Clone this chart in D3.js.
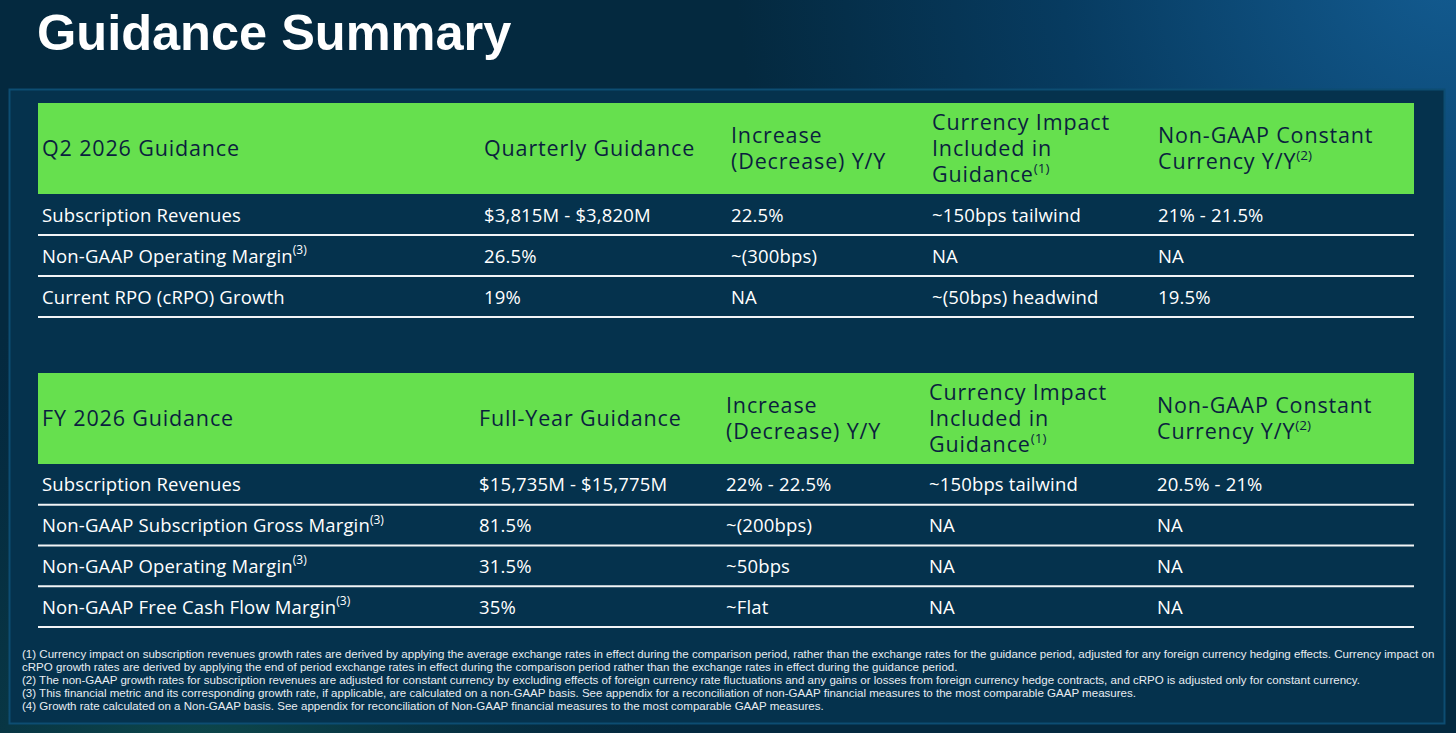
<!DOCTYPE html>
<html>
<head>
<meta charset="utf-8">
<script src="https://cdn.jsdelivr.net/npm/d3@7"></script>
<style>
  html, body { margin: 0; padding: 0; background: #04283f; overflow: hidden; }
  svg { display: block; }
</style>
</head>
<body>
<svg id="chart" width="1456" height="733"></svg>
<script>
// ---------------- DATA ----------------
const pageTitle = "Guidance Summary";

// "|" separates normal text from superscript note marker
const q2Headers = [["Q2 2026 Guidance"], ["Quarterly Guidance"], ["Increase", "(Decrease) Y/Y"],
  ["Currency Impact", "Included in", "Guidance|(1)"], ["Non-GAAP Constant", "Currency Y/Y|(2)"]];
const q2Metrics  = ["Subscription Revenues", "Non-GAAP Operating Margin|(3)", "Current RPO (cRPO) Growth"];
const q2Guidance = ["$3,815M - $3,820M", "26.5%", "19%"];
const q2Change   = ["22.5%", "~(300bps)", "NA"];
const q2Currency = ["~150bps tailwind", "NA", "~(50bps) headwind"];
const q2Constant = ["21% - 21.5%", "NA", "19.5%"];

const fyHeaders = [["FY 2026 Guidance"], ["Full-Year Guidance"], ["Increase", "(Decrease) Y/Y"],
  ["Currency Impact", "Included in", "Guidance|(1)"], ["Non-GAAP Constant", "Currency Y/Y|(2)"]];
const fyMetrics  = ["Subscription Revenues", "Non-GAAP Subscription Gross Margin|(3)",
  "Non-GAAP Operating Margin|(3)", "Non-GAAP Free Cash Flow Margin|(3)"];
const fyGuidance = ["$15,735M - $15,775M", "81.5%", "31.5%", "35%"];
const fyChange   = ["22% - 22.5%", "~(200bps)", "~50bps", "~Flat"];
const fyCurrency = ["~150bps tailwind", "NA", "NA", "NA"];
const fyConstant = ["20.5% - 21%", "NA", "NA", "NA"];

const footnotes = [
  "(1) Currency impact on subscription revenues growth rates are derived by applying the average exchange rates in effect during the comparison period, rather than the exchange rates for the guidance period, adjusted for any foreign currency hedging effects. Currency impact on",
  "cRPO growth rates are derived by applying the end of period exchange rates in effect during the comparison period rather than the exchange rates in effect during the guidance period.",
  "(2) The non-GAAP growth rates for subscription revenues are adjusted for constant currency by excluding effects of foreign currency rate fluctuations and any gains or losses from foreign currency hedge contracts, and cRPO is adjusted only for constant currency.",
  "(3) This financial metric and its corresponding growth rate, if applicable, are calculated on a non-GAAP basis. See appendix for a reconciliation of non-GAAP financial measures to the most comparable GAAP measures.",
  "(4) Growth rate calculated on a Non-GAAP basis. See appendix for reconciliation of Non-GAAP financial measures to the most comparable GAAP measures."
];

// ---------------- LAYOUT ----------------
const W = 1456, H = 733;
const FONT = "'Open Sans', 'Noto Sans', sans-serif";
const GREEN = "#66e04e", HEAD_TXT = "#0b1f3e";

const svg = d3.select("#chart");
const defs = svg.append("defs");

const bg = defs.append("radialGradient").attr("id", "bgGlow")
  .attr("gradientUnits", "userSpaceOnUse").attr("cx", 1456).attr("cy", -40).attr("r", 720);
bg.append("stop").attr("offset", "0%").attr("stop-color", "#135c92");
bg.append("stop").attr("offset", "55%").attr("stop-color", "#073b60");
bg.append("stop").attr("offset", "100%").attr("stop-color", "#04293f");

const bg2 = defs.append("radialGradient").attr("id", "bgGlow2")
  .attr("gradientUnits", "userSpaceOnUse").attr("cx", 200).attr("cy", 790).attr("r", 520);
bg2.append("stop").attr("offset", "0%").attr("stop-color", "#10504e").attr("stop-opacity", 0.9);
bg2.append("stop").attr("offset", "100%").attr("stop-color", "#04293f").attr("stop-opacity", 0);

svg.append("rect").attr("width", W).attr("height", H).attr("fill", "#04293f");
svg.append("rect").attr("width", W).attr("height", H).attr("fill", "url(#bgGlow)");
svg.append("rect").attr("width", W).attr("height", H).attr("fill", "url(#bgGlow2)");

// title
svg.append("text").attr("x", 37).attr("y", 50)
  .attr("font-family", "'Liberation Sans', Arial, sans-serif").attr("font-weight", "bold")
  .attr("font-size", 50.5).attr("fill", "#ffffff").text(pageTitle);

// panel
svg.append("rect").attr("x", 9.5).attr("y", 89.5).attr("width", 1435).attr("height", 634)
  .attr("fill", "#05324d").attr("stroke", "#0d4d72").attr("stroke-width", 2);

// append one (possibly superscripted) line as tspans; first tspan may carry x / y
function addLine(sel, str, size, supSize, raise, x, y) {
  const parts = str.split("|");
  sel.append("tspan").attr("x", x).attr("y", y).text(parts[0]);
  if (parts[1]) {
    sel.append("tspan").attr("font-size", supSize).attr("letter-spacing", 0)
      .attr("dy", -size * raise).text(parts[1]);
  }
}

function drawTable(cfg) {
  const g = svg.append("g");
  const x0 = 38, x1 = 1414;
  // header
  g.append("rect").attr("x", x0).attr("y", cfg.top).attr("width", x1 - x0).attr("height", cfg.headH)
    .attr("fill", GREEN);
  const hc = cfg.top + cfg.headH / 2 - 2;
  const lineGap = 26;
  cfg.headers.forEach((lines, ci) => {
    const t = g.append("text")
      .attr("dominant-baseline", "central")
      .attr("font-family", FONT).attr("font-size", 21.5).attr("letter-spacing", 0.85)
      .attr("fill", HEAD_TXT);
    lines.forEach((ln, li) => {
      const y = hc + (li - (lines.length - 1) / 2) * lineGap;
      addLine(t, ln, 21.5, 13.5, 0.2, cfg.cols[ci], y);
    });
  });
  // rows
  const yScale = d3.scaleBand().domain(d3.range(cfg.metrics.length))
    .range([cfg.top + cfg.headH, cfg.bottom]);
  const columns = [cfg.metrics, cfg.guidance, cfg.change, cfg.currency, cfg.constant];
  columns.forEach((col, ci) => {
    col.forEach((val, ri) => {
      const t = g.append("text")
        .attr("dominant-baseline", "central")
        .attr("font-family", FONT).attr("font-size", 18.5).attr("letter-spacing", 0.15)
        .attr("fill", "#ffffff");
      addLine(t, val, 18.5, 12, 0.3, cfg.cols[ci], yScale(ri) + yScale.bandwidth() / 2 - 1);
    });
  });
  g.selectAll("line.sep").data(d3.range(cfg.metrics.length)).join("line")
    .attr("x1", x0).attr("x2", x1)
    .attr("y1", d => yScale(d) + yScale.bandwidth())
    .attr("y2", d => yScale(d) + yScale.bandwidth())
    .attr("stroke", "#f2f4f6").attr("stroke-width", 2);
}

drawTable({
  top: 103, headH: 91, bottom: 317,
  cols: [42, 484, 731, 932, 1158],
  headers: q2Headers, metrics: q2Metrics, guidance: q2Guidance,
  change: q2Change, currency: q2Currency, constant: q2Constant
});

drawTable({
  top: 373, headH: 91, bottom: 627,
  cols: [42, 479, 726, 929, 1157],
  headers: fyHeaders, metrics: fyMetrics, guidance: fyGuidance,
  change: fyChange, currency: fyCurrency, constant: fyConstant
});

// footnotes
const fy = d3.scaleLinear().domain([0, footnotes.length - 1]).range([654, 706]);
svg.selectAll("text.fn").data(footnotes).join("text").attr("class", "fn")
  .attr("x", 22).attr("y", (d, i) => fy(i))
  .attr("dominant-baseline", "central")
  .attr("font-family", "'Liberation Sans Narrow', 'Liberation Sans', Arial, sans-serif")
  .attr("font-size", 11.55).attr("fill", "#e8edf2")
  .text(d => d);
</script>
</body>
</html>
